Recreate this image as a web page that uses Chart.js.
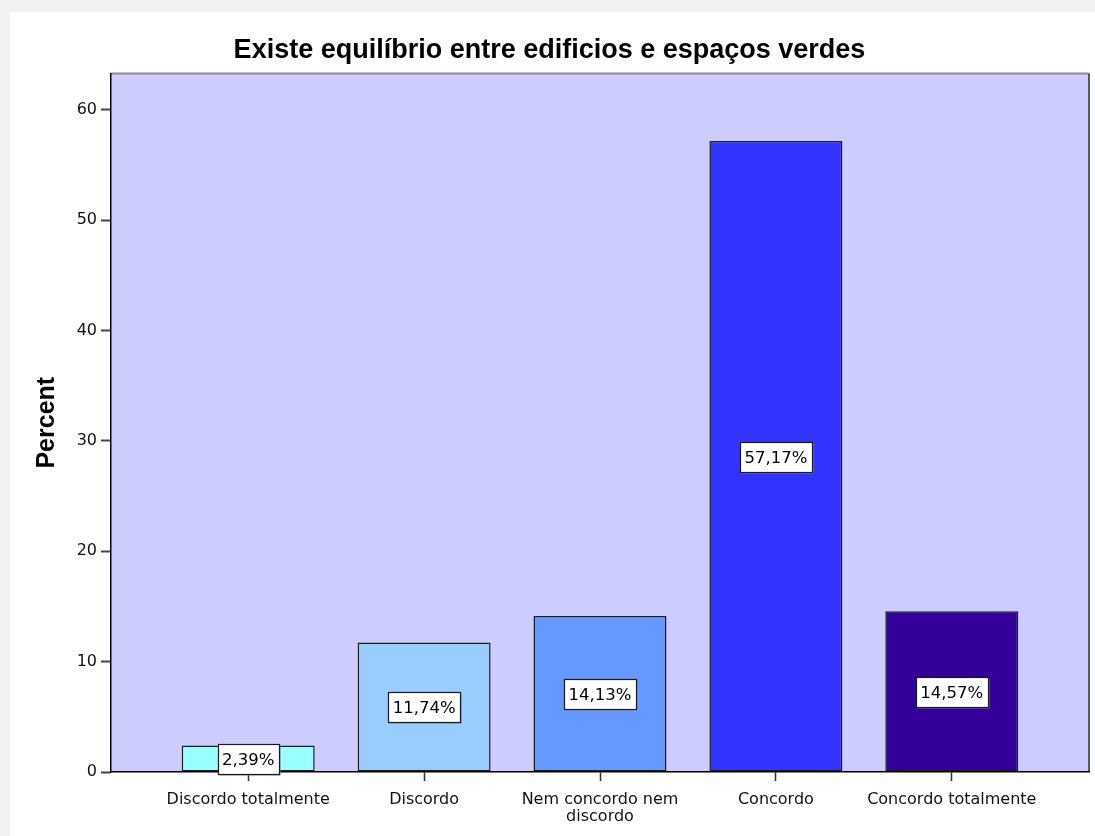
<!DOCTYPE html>
<html>
<head>
<meta charset="utf-8">
<title>Existe equilíbrio entre edificios e espaços verdes</title>
<script src="https://cdn.jsdelivr.net/npm/chart.js@4.4.1/dist/chart.umd.min.js"></script>
<style>
  html, body { margin: 0; padding: 0; background: #f2f2f2; }
  body { width: 1095px; height: 836px; position: relative; overflow: hidden; }
  #card { position: absolute; left: 10px; top: 12px; width: 1085px; height: 824px; background: #ffffff; }
  #chart { display: block; }
</style>
</head>
<body>
<div id="card"><canvas id="chart" width="1085" height="824"></canvas></div>
<script>
// Survey answers and their share of respondents (%)
const categories = [
  'Discordo totalmente',
  'Discordo',
  ['Nem concordo nem', 'discordo'],
  'Concordo',
  'Concordo totalmente'
];
const percentValues = [2.39, 11.74, 14.13, 57.17, 14.57];
const percentLabels = ['2,39%', '11,74%', '14,13%', '57,17%', '14,57%'];
const yTickValues = [0, 10, 20, 30, 40, 50, 60];
const barColors = ['#99FFFF', '#99CCFF', '#6699FF', '#3333FF', '#330099'];

// Lavender plot background with a thin frame
const plotBackground = {
  id: 'plotBackground',
  beforeDraw(chart) {
    const { ctx, chartArea: a } = chart;
    ctx.save();
    ctx.fillStyle = '#CCCCFF';
    ctx.fillRect(a.left, a.top, a.right - a.left, a.bottom - a.top);
    ctx.strokeStyle = '#8a8a8a';
    ctx.lineWidth = 2;
    ctx.beginPath();
    ctx.moveTo(a.left, a.top);
    ctx.lineTo(a.right, a.top);
    ctx.stroke();
    ctx.strokeStyle = '#555a66';
    ctx.beginPath();
    ctx.moveTo(a.right, a.top);
    ctx.lineTo(a.right, a.bottom);
    ctx.stroke();
    ctx.restore();
  }
};

// Boxed percentage labels in the middle of each bar
const boxedLabels = {
  id: 'boxedLabels',
  afterDatasetsDraw(chart) {
    const { ctx } = chart;
    const yScale = chart.scales.y;
    const meta = chart.getDatasetMeta(0);
    ctx.save();
    ctx.font = '16.5px "DejaVu Sans"';
    ctx.textAlign = 'center';
    ctx.textBaseline = 'middle';
    meta.data.forEach((bar, i) => {
      const cy = yScale.getPixelForValue(percentValues[i] / 2);
      const text = percentLabels[i];
      const w = Math.round(ctx.measureText(text).width) + 9;
      const h = 30;
      const x0 = Math.round(bar.x - w / 2) + 0.5;
      const y0 = Math.round(cy - h / 2) + 0.5;
      ctx.fillStyle = '#8a8a8a';
      ctx.fillRect(x0 + 1, y0 + 1, w, h);
      ctx.fillStyle = '#ffffff';
      ctx.fillRect(x0, y0, w, h);
      ctx.strokeStyle = '#1a1a1a';
      ctx.lineWidth = 1.2;
      ctx.strokeRect(x0, y0, w, h);
      ctx.fillStyle = '#000000';
      ctx.fillText(text, bar.x, y0 + h / 2 + 1);
    });
    ctx.restore();
  }
};

new Chart(document.getElementById('chart'), {
  type: 'bar',
  data: {
    datasets: [{
      data: percentValues.map((v, i) => ({ x: i, y: v })),
      backgroundColor: barColors,
      borderColor: '#1c1c1c',
      borderWidth: 1.5,
      borderSkipped: false,
      barPercentage: 0.756,
      categoryPercentage: 1
    }]
  },
  options: {
    responsive: false,
    animation: false,
    events: [],
    layout: { padding: { left: 0, right: 6, top: 0, bottom: 0 } },
    plugins: {
      legend: { display: false },
      tooltip: { enabled: false },
      title: {
        display: true,
        text: 'Existe equilíbrio entre edificios e espaços verdes',
        color: '#000000',
        font: { family: '"Liberation Sans", Arial, sans-serif', size: 27, weight: 'bold', lineHeight: 1.2 },
        padding: { top: 22, bottom: 7 }
      }
    },
    scales: {
      x: {
        type: 'linear',
        min: -0.78,
        max: 4.78,
        offset: false,
        afterBuildTicks(scale) {
          scale.ticks = categories.map((_, i) => ({ value: i }));
        },
        afterFit(scale) { scale.height = 64; },
        grid: {
          display: true,
          offset: false,
          drawOnChartArea: false,
          drawTicks: true,
          tickLength: 9,
          tickWidth: 1.5,
          tickColor: '#333333'
        },
        border: { display: true, color: '#000000', width: 1.5 },
        ticks: {
          autoSkip: false,
          maxRotation: 0,
          minRotation: 0,
          padding: 10,
          color: '#111111',
          font: { family: '"DejaVu Sans", sans-serif', size: 16, lineHeight: 1.08 },
          callback: (value) => categories[value]
        }
      },
      y: {
        min: 0,
        max: 63.3,
        afterBuildTicks(scale) {
          scale.ticks = yTickValues.map(v => ({ value: v }));
        },
        afterFit(scale) { scale.width = 101; },
        grid: {
          display: true,
          drawOnChartArea: false,
          drawTicks: true,
          tickLength: 10,
          tickWidth: 2,
          tickColor: '#444444'
        },
        border: { display: true, color: '#000000', width: 1.5 },
        ticks: {
          padding: 4,
          color: '#111111',
          font: { family: '"DejaVu Sans", sans-serif', size: 16 }
        },
        title: {
          display: true,
          text: 'Percent',
          color: '#000000',
          font: { family: '"Liberation Sans", Arial, sans-serif', size: 25, weight: 'bold', lineHeight: 1.2 },
          padding: { top: 22, bottom: 0 }
        }
      }
    }
  },
  plugins: [plotBackground, boxedLabels]
});
</script>
</body>
</html>
